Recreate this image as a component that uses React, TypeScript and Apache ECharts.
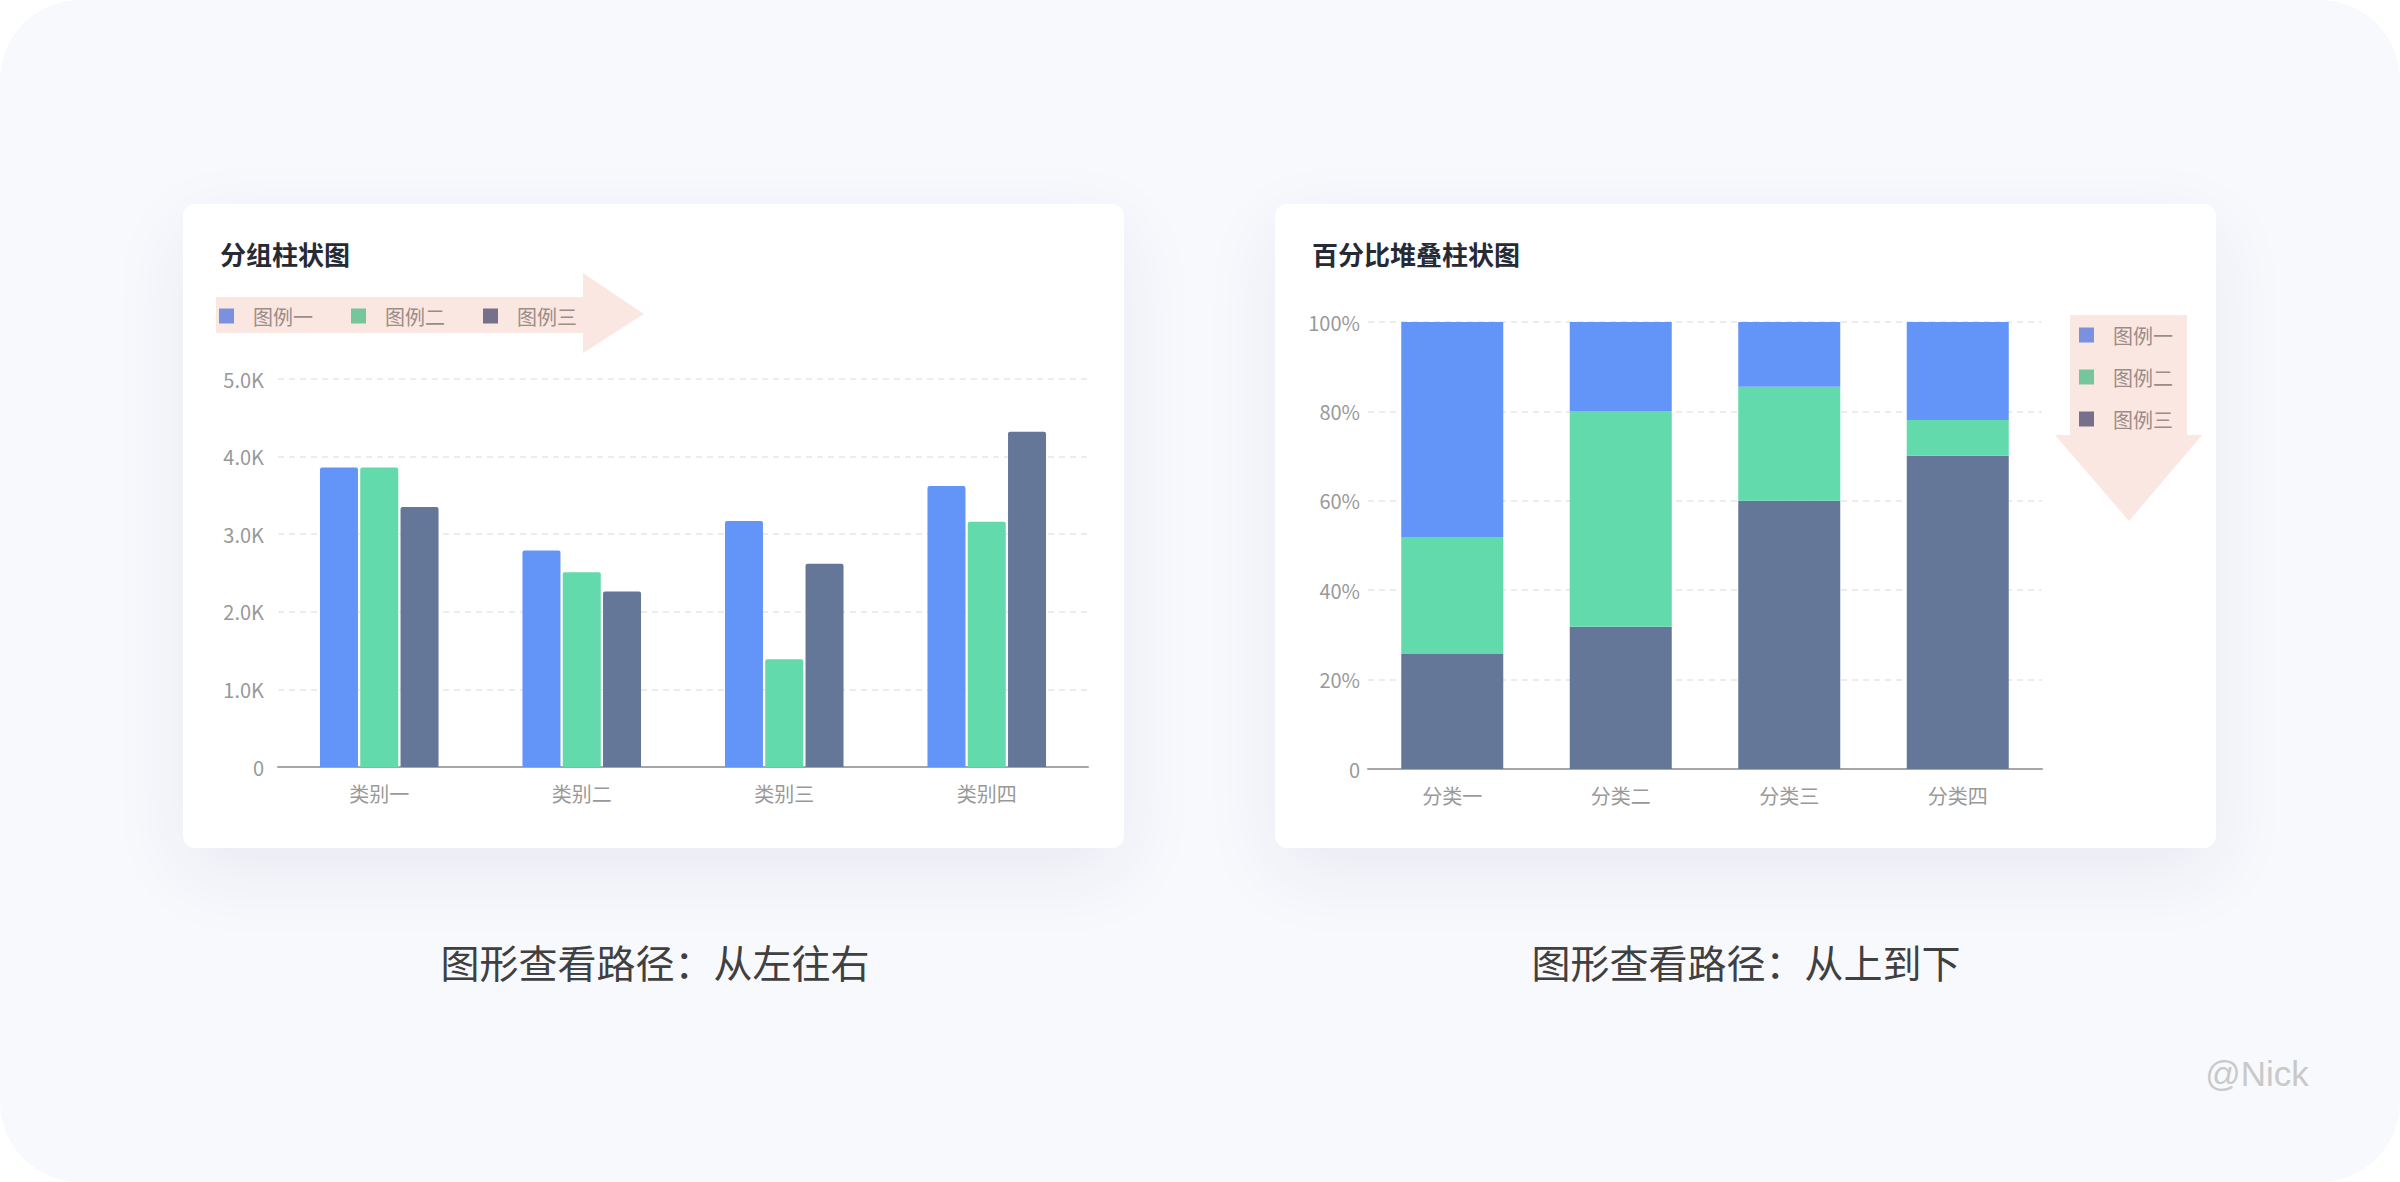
import { useEffect, useRef } from "react";
import * as echarts from "echarts";

const FONT = "'Noto Sans CJK SC', 'Noto Sans', sans-serif";

const legendNames = ["图例一", "图例二", "图例三"];
const barColors = ["#6395F9", "#62DAAB", "#657798"];
const legendIconColors = ["#7a91e0", "#75c79b", "#76718b"];

const groupCategories = ["类别一", "类别二", "类别三", "类别四"];
const groupSeries1 = [3860, 2790, 3170, 3620];
const groupSeries2 = [3860, 2510, 1390, 3160];
const groupSeries3 = [3350, 2260, 2620, 4320];
const groupTicks = ["0", "1.0K", "2.0K", "3.0K", "4.0K", "5.0K"];

const stackCategories = ["分类一", "分类二", "分类三", "分类四"];
const stackSeries1 = [48.1, 19.9, 14.5, 21.9];
const stackSeries2 = [26.2, 48.3, 25.5, 8.0];
const stackSeries3 = [25.7, 31.8, 60.0, 70.1];
const stackTicks = ["0", "20%", "40%", "60%", "80%", "100%"];

const captions = ["图形查看路径：从左往右", "图形查看路径：从上到下"];

const axisLabel = { color: "#999999", fontSize: 20, fontFamily: FONT };
const splitLine = { show: true, lineStyle: { color: "#e6e6e6", width: 1.5, type: [6, 5] as number[] } };

function legendData() {
  return legendNames.map((name, i) => ({ name, itemStyle: { color: legendIconColors[i] } }));
}

const cardStyle: React.CSSProperties = {
  position: "absolute",
  top: 204,
  width: 941,
  height: 644,
  background: "#ffffff",
  borderRadius: 12,
  boxShadow: "0 24px 80px rgba(30, 45, 100, 0.07)",
};

export default function App() {
  const chartRef = useRef<HTMLDivElement>(null);

  useEffect(() => {
    if (!chartRef.current) return;
    const chart = echarts.init(chartRef.current, null, { renderer: "svg" });

    const option: echarts.EChartsOption = {
      animation: false,
      backgroundColor: "transparent",
      textStyle: { fontFamily: FONT },
      title: [
        {
          text: "分组柱状图",
          left: 220,
          top: 240,
          padding: 0,
          textStyle: { fontSize: 26, fontWeight: 600, color: "#262a35", fontFamily: FONT },
        },
        {
          text: "百分比堆叠柱状图",
          left: 1312,
          top: 240,
          padding: 0,
          textStyle: { fontSize: 26, fontWeight: 600, color: "#262a35", fontFamily: FONT },
        },
      ],
      legend: [
        {
          left: 219,
          top: 306,
          padding: 0,
          icon: "rect",
          itemWidth: 15,
          itemHeight: 15,
          itemGap: 38,
          textStyle: { fontSize: 20, color: "#9b8c88", fontFamily: FONT, padding: [0, 0, 0, 14] },
          data: legendData(),
        },
        {
          orient: "vertical",
          left: 2079,
          top: 325,
          padding: 0,
          icon: "rect",
          itemWidth: 15,
          itemHeight: 15,
          itemGap: 22,
          textStyle: { fontSize: 20, color: "#9b8c88", fontFamily: FONT, padding: [0, 0, 0, 14] },
          data: legendData(),
        },
      ],
      grid: [
        { left: 278, right: 1312, top: 379, bottom: 415, containLabel: false },
        { left: 1368, right: 358, top: 322, bottom: 413, containLabel: false },
      ],
      xAxis: [
        {
          type: "category",
          gridIndex: 0,
          data: groupCategories,
          axisLine: { lineStyle: { color: "#a6a6a6", width: 2 } },
          axisTick: { show: false },
          axisLabel: { ...axisLabel, margin: 16 },
        },
        {
          type: "category",
          gridIndex: 1,
          data: stackCategories,
          axisLine: { lineStyle: { color: "#a6a6a6", width: 2 } },
          axisTick: { show: false },
          axisLabel: { ...axisLabel, margin: 16 },
        },
      ],
      yAxis: [
        {
          type: "value",
          gridIndex: 0,
          min: 0,
          max: 5000,
          interval: 1000,
          axisLine: { show: false },
          axisTick: { show: false },
          splitLine,
          axisLabel: {
            ...axisLabel,
            margin: 14,
            formatter: (v: number) => groupTicks[Math.round(v / 1000)],
          },
        },
        {
          type: "value",
          gridIndex: 1,
          min: 0,
          max: 100,
          interval: 20,
          axisLine: { show: false },
          axisTick: { show: false },
          splitLine,
          axisLabel: {
            ...axisLabel,
            margin: 8,
            formatter: (v: number) => stackTicks[Math.round(v / 20)],
          },
        },
      ],
      series: [
        ...[groupSeries1, groupSeries2, groupSeries3].map((data, i) => ({
          type: "bar" as const,
          name: legendNames[i],
          xAxisIndex: 0,
          yAxisIndex: 0,
          data,
          barWidth: 38,
          barGap: "6%",
          itemStyle: { color: barColors[i], borderRadius: [2, 2, 0, 0] },
        })),
        ...[stackSeries3, stackSeries2, stackSeries1].map((data, k) => {
          const i = 2 - k;
          return {
            type: "bar" as const,
            name: legendNames[i],
            xAxisIndex: 1,
            yAxisIndex: 1,
            stack: "percent",
            data,
            barWidth: 102,
            itemStyle: { color: barColors[i] },
          };
        }),
      ],
      graphic: [
        {
          type: "polygon",
          z: 0,
          shape: {
            points: [
              [216, 297],
              [583, 297],
              [583, 273],
              [644, 314],
              [583, 353],
              [583, 333],
              [216, 333],
            ],
          },
          style: { fill: "#fbe7e2" },
        },
        {
          type: "polygon",
          z: 0,
          shape: {
            points: [
              [2070, 315],
              [2187, 315],
              [2187, 435],
              [2202, 435],
              [2129, 521],
              [2055, 435],
              [2070, 435],
            ],
          },
          style: { fill: "#fbe7e2" },
        },
        {
          type: "text",
          x: 655,
          y: 961,
          style: {
            text: captions[0],
            fontSize: 39,
            fontFamily: FONT,
            fill: "#404040",
            align: "center",
            verticalAlign: "middle",
            textAlign: "center",
            textVerticalAlign: "middle",
          } as any,
        },
        {
          type: "text",
          x: 1746,
          y: 961,
          style: {
            text: captions[1],
            fontSize: 39,
            fontFamily: FONT,
            fill: "#404040",
            align: "center",
            verticalAlign: "middle",
            textAlign: "center",
            textVerticalAlign: "middle",
          } as any,
        },
        {
          type: "text",
          x: 2257,
          y: 1073,
          style: {
            text: "@Nick",
            fontSize: 35,
            fontFamily: "'Liberation Sans', Arial, sans-serif",
            fill: "#c9c9c9",
            align: "center",
            verticalAlign: "middle",
            textAlign: "center",
            textVerticalAlign: "middle",
          } as any,
        },
      ],
    };

    chart.setOption(option);

    const handleResize = () => chart.resize();
    window.addEventListener("resize", handleResize);
    return () => {
      window.removeEventListener("resize", handleResize);
      chart.dispose();
    };
  }, []);

  return (
    <div style={{ position: "relative", width: 2400, height: 1182, background: "#ffffff", overflow: "hidden" }}>
      <style>{`body{margin:0}`}</style>
      <div style={{ position: "absolute", inset: 0, borderRadius: 80, background: "#f8f9fd" }} />
      <div style={{ ...cardStyle, left: 183 }} />
      <div style={{ ...cardStyle, left: 1275 }} />
      <div ref={chartRef} style={{ position: "absolute", left: 0, top: 0, width: 2400, height: 1182 }} />
    </div>
  );
}
